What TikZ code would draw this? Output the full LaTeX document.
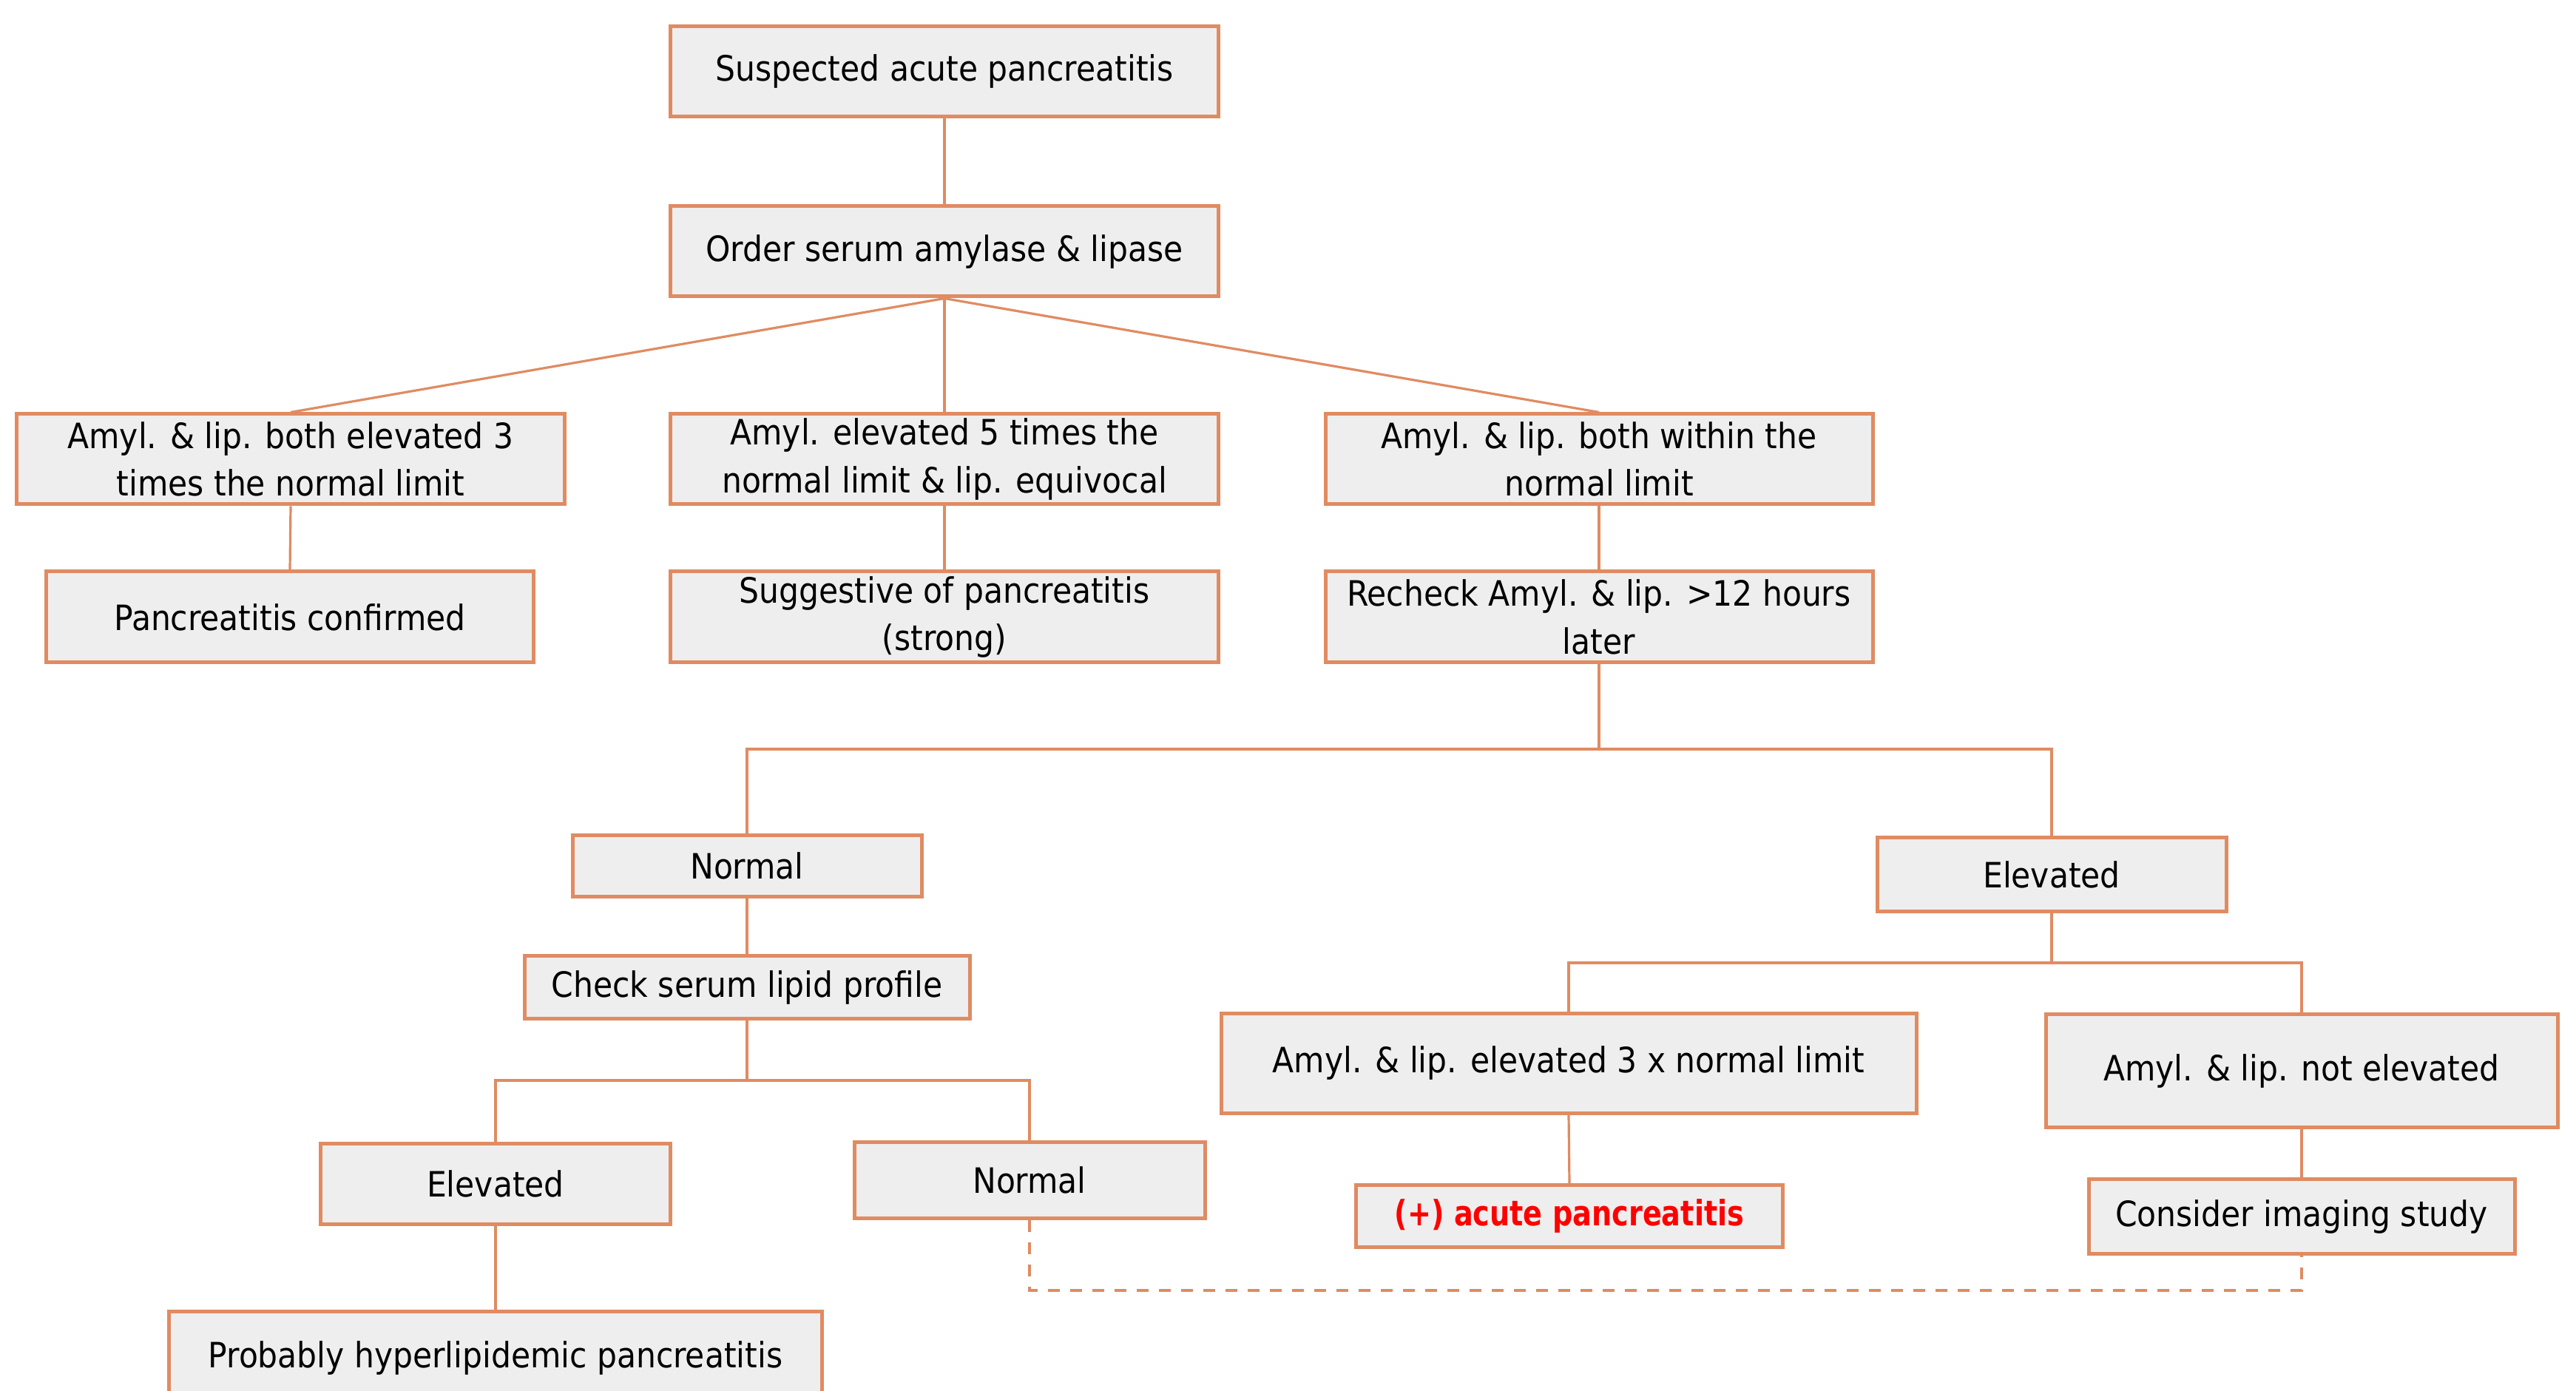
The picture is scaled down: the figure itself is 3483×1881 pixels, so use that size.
\documentclass[tikz,border=0pt]{standalone}
\usepackage{fontspec}
\setmainfont{DejaVu Sans Condensed}
\newfontfamily\semibf[FakeStretch=0.9]{DejaVu Sans Condensed Bold}
\begin{document}
\begin{tikzpicture}[x=0.25pt,y=-0.25pt,
  every node/.style={font=\fontsize{11.8}{16.2}\selectfont},
  box/.style={draw=boxorange, fill=boxfill, line width=1.25pt, inner sep=0pt, align=center},
  conn/.style={draw=boxorange, line width=0.8pt},
  dconn/.style={draw=boxorange, line width=0.8pt, dash pattern=on 4pt off 3.5pt}]
\definecolor{boxorange}{RGB}{224,139,98}
\definecolor{boxfill}{RGB}{238,238,238}
\definecolor{redtxt}{RGB}{255,0,0}
\useasboundingbox (0,0) rectangle (3483,1881);
\fill[white] (0,0) rectangle (3483,1881);

\node[box, minimum width=185.25pt, minimum height=30.5pt] (s1) at (1277,96.5) {Suspected acute pancreatitis};
\node[box, minimum width=185.25pt, minimum height=30.5pt] (s2) at (1277,340) {Order serum amylase \& lipase};
\node[box, minimum width=185.25pt, minimum height=30.5pt] (a3) at (393,621) {Amyl. \& lip. both elevated 3\\times the normal limit};
\node[box, minimum width=185.25pt, minimum height=30.5pt] (a5) at (1277,621) {Amyl. elevated 5 times the\\normal limit \& lip. equivocal};
\node[box, minimum width=185pt, minimum height=30.5pt] (aw) at (2162,621) {Amyl. \& lip. both within the\\normal limit};
\node[box, minimum width=164.75pt, minimum height=30.75pt] (conf) at (392,834.5) {Pancreatitis confirmed};
\node[box, minimum width=185.25pt, minimum height=30.75pt] (sug) at (1277,834.5) {Suggestive of pancreatitis\\(strong)};
\node[box, minimum width=185pt, minimum height=30.75pt] (rc) at (2162,834.5) {Recheck Amyl. \& lip. >12 hours\\later};
\node[box, minimum width=118pt, minimum height=20.75pt] (nm) at (1010,1171) {Normal};
\node[box, minimum width=118pt, minimum height=25pt] (el) at (2774,1183) {Elevated};
\node[box, minimum width=150.5pt, minimum height=21.25pt] (lp) at (1010,1335) {Check serum lipid profile};
\node[box, minimum width=118.25pt, minimum height=27.25pt] (el2) at (670,1601) {Elevated};
\node[box, minimum width=118.5pt, minimum height=25.75pt] (nl2) at (1392,1596) {Normal};
\node[box, minimum width=220.75pt, minimum height=31.25pt] (prob) at (670,1836) {Probably hyperlipidemic pancreatitis};
\node[box, minimum width=235pt, minimum height=33.75pt] (a3x) at (2121,1437.5) {Amyl. \& lip. elevated 3 x normal limit};
\node[box, minimum width=173pt, minimum height=38.25pt] (ane) at (3112,1448) {Amyl. \& lip. not elevated};
\node[box, minimum width=144.25pt, minimum height=21pt, text=redtxt, font=\fontsize{11.8}{16.2}\semibf] (ac) at (2122,1644.5) {(+) acute pancreatitis};
\node[box, minimum width=144pt, minimum height=25.25pt] (cis) at (3112,1645) {Consider imaging study};

\coordinate (b1) at (2162,1013);
\coordinate (b2) at (1010,1461);
\coordinate (b3) at (2774,1302);
\coordinate (d1) at (3112,1745);

\draw[conn] (s1.south) -- (s2.north);
\draw[conn] (s2.south) -- (a3.north);
\draw[conn] (s2.south) -- (a5.north);
\draw[conn] (s2.south) -- (aw.north);
\draw[conn] (a3.south) -- (conf.north);
\draw[conn] (a5.south) -- (sug.north);
\draw[conn] (aw.south) -- (rc.north);
\draw[conn] (rc.south) -- (b1);
\draw[conn] (b1) -| (nm.north);
\draw[conn] (b1) -| (el.north);
\draw[conn] (nm.south) -- (lp.north);
\draw[conn] (lp.south) -- (b2);
\draw[conn] (b2) -| (el2.north);
\draw[conn] (b2) -| (nl2.north);
\draw[conn] (el2.south) -- (prob.north);
\draw[conn] (el.south) -- (b3);
\draw[conn] (b3) -| (a3x.north);
\draw[conn] (b3) -| (ane.north);
\draw[conn] (a3x.south) -- (ac.north);
\draw[conn] (ane.south) -- (cis.north);
\draw[dconn] (nl2.south) |- (d1) -- (cis.south);
\end{tikzpicture}
\end{document}
